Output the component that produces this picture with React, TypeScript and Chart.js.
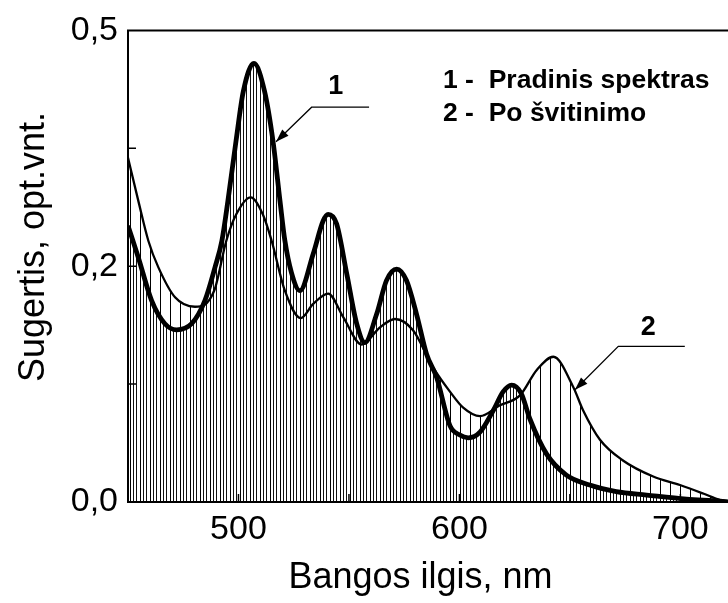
import React, { useEffect, useRef } from 'react';
import { Chart, registerables } from 'chart.js';

Chart.register(...registerables);

// Curve 1 - Pradinis spektras (thick)
const wl1 = [450, 454.7, 460.7, 466.7, 472, 478.8, 484.8, 489.4, 492.5, 495.2, 498.9, 502.2, 507, 511.8, 515.6, 518.8, 521, 524, 527.8, 533.8, 538.3, 540.6, 544.4, 549, 553.5, 557.2, 562.5, 567, 571.6, 576, 580.6, 585.1, 589.7, 595.7, 600.2, 604, 609.3, 615.3, 619.8, 623.6, 628, 631.9, 639.4, 648.4, 659, 671, 684.7, 702.8, 718, 722];
const abs1 = [0.293, 0.259, 0.2135, 0.189, 0.1825, 0.189, 0.2135, 0.249, 0.277, 0.319, 0.383, 0.4355, 0.465, 0.4355, 0.383, 0.319, 0.277, 0.243, 0.224, 0.263, 0.298, 0.305, 0.295, 0.242, 0.189, 0.169, 0.199, 0.235, 0.247, 0.235, 0.199, 0.157, 0.132, 0.081, 0.071, 0.068, 0.074, 0.097, 0.117, 0.124, 0.115, 0.088, 0.051, 0.0285, 0.018, 0.011, 0.0074, 0.003, 0.001, 0];

// Curve 2 - Po švitinimo (thin)
const wl2 = [450, 454.7, 459.2, 463.7, 471.3, 480.3, 489, 494.5, 499, 505.5, 511, 515, 521, 528.2, 533.8, 540.6, 547.4, 555.7, 564, 570.8, 579, 588, 595.7, 601.7, 609.3, 618.3, 627.4, 635, 642.5, 651.5, 656, 663.6, 674, 687.7, 699.8, 710.3, 718, 722];
const abs2 = [0.365, 0.319, 0.277, 0.249, 0.217, 0.207, 0.224, 0.277, 0.305, 0.323, 0.305, 0.277, 0.224, 0.195, 0.21, 0.221, 0.196, 0.167, 0.185, 0.194, 0.182, 0.143, 0.117, 0.1, 0.091, 0.1025, 0.113, 0.14, 0.154, 0.122, 0.097, 0.066, 0.044, 0.027, 0.018, 0.009, 0.002, 0];

const yTickLabels = ['0,0', '', '0,2', '', '0,5'];
const xTickLabels: Record<number, string> = { 500: '500', 600: '600', 700: '700' };

const xTitle = 'Bangos ilgis, nm';
const yTitle = 'Sugertis, opt.vnt.';
const legendLines = ['1 -  Pradinis spektras', '2 -  Po švitinimo'];

// annotation anchors in data units: tip, elbow, end of shelf, label
const ann1 = { tip: [517, 0.382], elbow: [533.1, 0.4186], end: 559.1, label: [544, 0.441], text: '1' };
const ann2 = { tip: [652.3, 0.119], elbow: [671.9, 0.165], end: 702, label: [685.5, 0.185], text: '2' };

const FONT = '"Liberation Sans", Arial, Helvetica, sans-serif';

function makePattern(width: number, xs: number[], color: string) {
  const c = document.createElement('canvas');
  c.width = width;
  c.height = 8;
  const g = c.getContext('2d')!;
  g.fillStyle = color;
  xs.forEach((x) => g.fillRect(x, 0, 1, 8));
  return g.createPattern(c, 'repeat');
}

const decor = {
  id: 'decor',
  afterDraw(chart: any) {
    const { ctx, chartArea: a, scales } = chart;
    const xs = scales.x;
    const ys = scales.y;
    ctx.save();
    ctx.strokeStyle = '#000';
    ctx.fillStyle = '#000';
    // frame
    ctx.lineWidth = 2;
    ctx.beginPath();
    ctx.moveTo(a.left, a.top);
    ctx.lineTo(a.right + 20, a.top);
    ctx.moveTo(a.left, a.top - 1);
    ctx.lineTo(a.left, a.bottom);
    ctx.moveTo(a.left - 1, a.bottom);
    ctx.lineTo(a.right + 20, a.bottom);
    ctx.stroke();
    // inner ticks
    ctx.lineWidth = 1.5;
    ctx.beginPath();
    xs.ticks.forEach((t: any) => {
      if (t.value <= xs.min || t.value >= xs.max) return;
      const px = xs.getPixelForValue(t.value);
      ctx.moveTo(px, a.bottom);
      ctx.lineTo(px, a.bottom - 8);
    });
    ys.ticks.forEach((t: any) => {
      if (t.value <= ys.min || t.value >= ys.max) return;
      const py = ys.getPixelForValue(t.value);
      ctx.moveTo(a.left, py);
      ctx.lineTo(a.left + 8, py);
    });
    ctx.stroke();

    // axis titles
    ctx.font = `36px ${FONT}`;
    ctx.textAlign = 'center';
    ctx.textBaseline = 'middle';
    ctx.fillText(xTitle, (a.left + a.right) / 2 - 8, 578);
    ctx.save();
    ctx.translate(34, 247);
    ctx.rotate(-Math.PI / 2);
    ctx.fillText(yTitle, 0, 0);
    ctx.restore();

    // legend text
    ctx.font = `bold 26.5px ${FONT}`;
    ctx.textAlign = 'left';
    ctx.fillText(legendLines[0], 443, 81);
    ctx.fillText(legendLines[1], 443, 114);

    // annotations
    [ann1, ann2].forEach((an) => {
      const tx = xs.getPixelForValue(an.tip[0]);
      const ty = ys.getPixelForValue(an.tip[1]);
      const ex = xs.getPixelForValue(an.elbow[0]);
      const ey = ys.getPixelForValue(an.elbow[1]);
      const endx = xs.getPixelForValue(an.end);
      ctx.lineWidth = 1.3;
      ctx.beginPath();
      ctx.moveTo(endx, ey);
      ctx.lineTo(ex, ey);
      ctx.lineTo(tx, ty);
      ctx.stroke();
      const ang = Math.atan2(ty - ey, tx - ex);
      const L = 13;
      const W = 4.5;
      const bx = tx - L * Math.cos(ang);
      const by = ty - L * Math.sin(ang);
      ctx.beginPath();
      ctx.moveTo(tx, ty);
      ctx.lineTo(bx + W * Math.sin(ang), by - W * Math.cos(ang));
      ctx.lineTo(bx - W * Math.sin(ang), by + W * Math.cos(ang));
      ctx.closePath();
      ctx.fill();
      ctx.font = `bold 27px ${FONT}`;
      ctx.textAlign = 'center';
      ctx.fillText(an.text, xs.getPixelForValue(an.label[0]), ys.getPixelForValue(an.label[1]));
    });
    ctx.restore();
  },
};

export default function App() {
  const ref = useRef<HTMLCanvasElement>(null);
  useEffect(() => {
    const canvas = ref.current!;
    const sparse = makePattern(10, [0], '#000');
    const dense = makePattern(10, [0, 3, 6], '#111');
    const chart = new Chart(canvas, {
      type: 'line',
      data: {
        datasets: [
          {
            label: legendLines[1],
            data: wl2.map((x, i) => ({ x, y: abs2[i] })),
            borderColor: '#000',
            borderWidth: 2.3,
            backgroundColor: sparse as any,
            fill: 'origin',
            pointRadius: 0,
            cubicInterpolationMode: 'monotone',
          },
          {
            label: legendLines[0],
            data: wl1.map((x, i) => ({ x, y: abs1[i] })),
            borderColor: '#000',
            borderWidth: 4.8,
            backgroundColor: dense as any,
            fill: 'origin',
            pointRadius: 0,
            cubicInterpolationMode: 'monotone',
          },
        ],
      },
      options: {
        animation: false,
        responsive: false,
        events: [],
        layout: { padding: { top: 29, right: 11, left: 0, bottom: 0 }, autoPadding: false },
        plugins: {
          legend: { display: false },
          tooltip: { enabled: false },
          filler: { drawTime: 'beforeDatasetsDraw' },
        },
        scales: {
          x: {
            type: 'linear',
            min: 450,
            max: 722,
            afterFit: (s: any) => { s.height = 101; },
            grid: { display: false, drawTicks: false },
            border: { display: false },
            ticks: {
              stepSize: 50,
              includeBounds: false,
              autoSkip: false,
              maxRotation: 0,
              padding: 7,
              color: '#000',
              font: { family: FONT, size: 34 },
              callback: (v: any) => xTickLabels[v] ?? '',
            },
          },
          y: {
            type: 'linear',
            min: 0,
            max: 0.5,
            afterFit: (s: any) => { s.width = 128; },
            grid: { display: false, drawTicks: false },
            border: { display: false },
            ticks: {
              stepSize: 0.125,
              padding: 10,
              color: '#000',
              font: { family: FONT, size: 34 },
              callback: (_v: any, i: number) => yTickLabels[i] ?? '',
            },
          },
        },
      },
      plugins: [decor],
    });
    return () => chart.destroy();
  }, []);
  return (
    <div style={{ position: 'fixed', left: 0, top: 0, width: 728, height: 603, overflow: 'hidden', background: '#fff' }}>
      <canvas ref={ref} width={740} height={603} style={{ display: 'block' }} />
    </div>
  );
}
